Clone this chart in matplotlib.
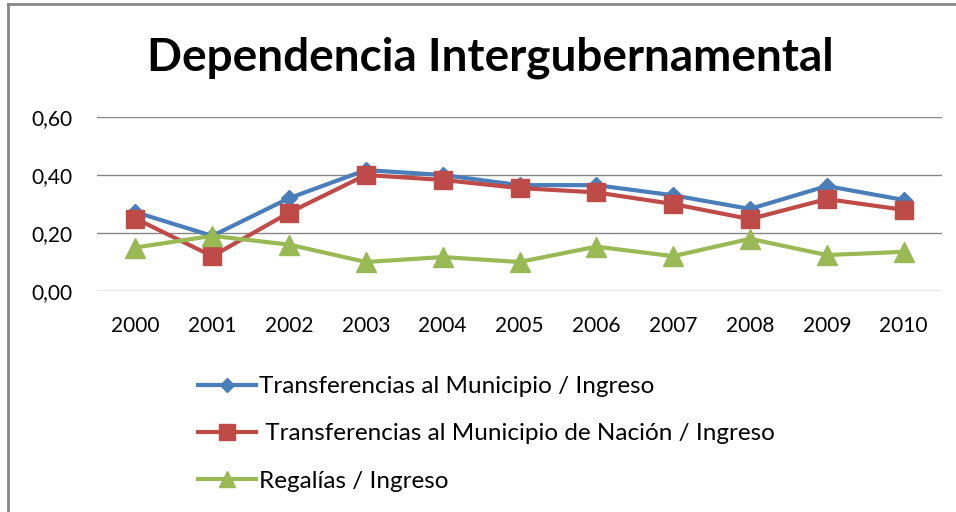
import matplotlib
matplotlib.use("Agg")
import matplotlib.pyplot as plt
from matplotlib.lines import Line2D

years = ["2000", "2001", "2002", "2003", "2004", "2005", "2006", "2007", "2008", "2009", "2010"]
transf_municipio = [0.272, 0.19, 0.32, 0.417, 0.40, 0.365, 0.365, 0.33, 0.283, 0.362, 0.314]
transf_nacion = [0.25, 0.12, 0.27, 0.40, 0.383, 0.355, 0.34, 0.30, 0.248, 0.317, 0.28]
regalias = [0.15, 0.19, 0.16, 0.10, 0.117, 0.10, 0.153, 0.12, 0.18, 0.124, 0.135]
labels = ["Transferencias al Municipio / Ingreso",
          " Transferencias al Municipio de Nación / Ingreso",
          "Regalías / Ingreso"]
yticks = [0.0, 0.2, 0.4, 0.6]
ytick_labels = ["0,00", "0,20", "0,40", "0,60"]

blue = "#4A7EBB"
red = "#BE4B48"
green = "#98B954"

plt.rcParams['font.family'] = ['Lato', 'DejaVu Sans']

fig = plt.figure(figsize=(9.56, 5.12), dpi=100)
# chart frame: only top and left edges are visible in the crop
fig.add_artist(Line2D([8 / 956, 8 / 956], [0, 1 - 4 / 512], transform=fig.transFigure,
                      color="#888888", lw=2))
fig.add_artist(Line2D([8 / 956, 1], [1 - 4 / 512, 1 - 4 / 512], transform=fig.transFigure,
                      color="#888888", lw=2))

ax = fig.add_axes([97 / 956, 1 - 291 / 512, (942 - 97) / 956, (291 - 117) / 512])
x = list(range(len(years)))
ax.plot(x, transf_municipio, color=blue, lw=3, marker="D", ms=8, zorder=3)
ax.plot(x, transf_nacion, color=red, lw=3, marker="s", ms=13, zorder=4)
ax.plot(x, regalias, color=green, lw=3, marker="^", ms=14, zorder=5)

ax.set_xlim(-0.5, len(years) - 0.5)
ax.set_ylim(0, 0.6)
ax.set_yticks(yticks)
ax.set_yticklabels(ytick_labels, fontsize=15)
ax.set_xticks(x)
ax.set_xticklabels(years, fontsize=15)
ax.tick_params(length=0, pad=18)
ax.tick_params(axis="y", pad=18)
ax.grid(axis="y", color="#868686", lw=1)
ax.set_axisbelow(True)
for s in ax.spines.values():
    s.set_visible(False)

fig.text(490 / 956, 1 - 58 / 512, "Dependencia Intergubernamental",
         fontsize=33, fontweight="bold", ha="center", va="center")

handles = [Line2D([], [], color=blue, lw=3, marker="D", ms=7),
           Line2D([], [], color=red, lw=3, marker="s", ms=12),
           Line2D([], [], color=green, lw=3, marker="^", ms=12)]
fig.legend(handles, labels, loc="upper left", bbox_to_anchor=(186 / 956, 1 - 364 / 512),
           frameon=False, fontsize=17.5, handlelength=2.4, handletextpad=0.1,
           labelspacing=1.08, borderpad=0)

fig.savefig("out.png", dpi=100)
